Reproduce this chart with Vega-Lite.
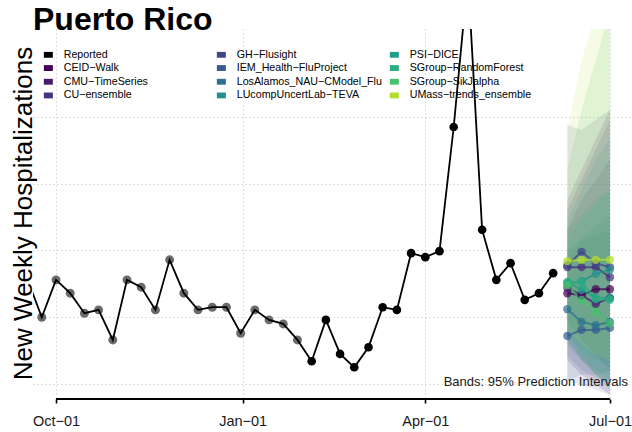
{
  "$schema": "https://vega.github.io/schema/vega-lite/v6.json",
  "width": 597,
  "height": 370,
  "autosize": {"type": "none"},
  "padding": {"left": 33, "top": 29, "right": 2, "bottom": 33},
  "background": "white",
  "title": {"text": "Puerto Rico", "anchor": "start", "frame": "group", "font": "Liberation Sans", "fontSize": 32, "fontWeight": "bold", "color": "black", "offset": 0, "dy": 8},
  "config": {"view": {"stroke": null}, "font": "Liberation Sans"},
  "datasets": {
    "reported": [
      {"date": "2022-09-17", "value": 256}, {"date": "2022-09-24", "value": 200}, {"date": "2022-10-01", "value": 256},
      {"date": "2022-10-08", "value": 236}, {"date": "2022-10-15", "value": 206}, {"date": "2022-10-22", "value": 211},
      {"date": "2022-10-29", "value": 166}, {"date": "2022-11-05", "value": 256}, {"date": "2022-11-12", "value": 245},
      {"date": "2022-11-19", "value": 211}, {"date": "2022-11-26", "value": 286}, {"date": "2022-12-03", "value": 236},
      {"date": "2022-12-10", "value": 211}, {"date": "2022-12-17", "value": 215}, {"date": "2022-12-24", "value": 215},
      {"date": "2022-12-31", "value": 176}, {"date": "2023-01-07", "value": 211}, {"date": "2023-01-14", "value": 196},
      {"date": "2023-01-21", "value": 190}, {"date": "2023-01-28", "value": 166}, {"date": "2023-02-04", "value": 134},
      {"date": "2023-02-11", "value": 196}, {"date": "2023-02-18", "value": 145}, {"date": "2023-02-25", "value": 125},
      {"date": "2023-03-04", "value": 155}, {"date": "2023-03-11", "value": 215}, {"date": "2023-03-18", "value": 211},
      {"date": "2023-03-25", "value": 296}, {"date": "2023-04-01", "value": 290}, {"date": "2023-04-08", "value": 299},
      {"date": "2023-04-15", "value": 485}, {"date": "2023-04-22", "value": 711}, {"date": "2023-04-29", "value": 331},
      {"date": "2023-05-06", "value": 256}, {"date": "2023-05-13", "value": 281}, {"date": "2023-05-20", "value": 226},
      {"date": "2023-05-27", "value": 236}, {"date": "2023-06-03", "value": 266}
    ],
    "forecast": [
      {"model": "CEID-Walk", "date": "2023-06-10", "median": 236, "lower": 136, "upper": 376},
      {"model": "CEID-Walk", "date": "2023-06-17", "median": 233, "lower": 114, "upper": 421},
      {"model": "CEID-Walk", "date": "2023-06-24", "median": 242, "lower": 99, "upper": 466},
      {"model": "CEID-Walk", "date": "2023-07-01", "median": 242, "lower": 84, "upper": 511},
      {"model": "CMU-TimeSeries", "date": "2023-06-10", "median": 244, "lower": 166, "upper": 331},
      {"model": "CMU-TimeSeries", "date": "2023-06-17", "median": 233, "lower": 136, "upper": 376},
      {"model": "CMU-TimeSeries", "date": "2023-06-24", "median": 220, "lower": 114, "upper": 406},
      {"model": "CMU-TimeSeries", "date": "2023-07-01", "median": 229, "lower": 99, "upper": 436},
      {"model": "CU-ensemble", "date": "2023-06-10", "median": 275, "lower": 196, "upper": 361},
      {"model": "CU-ensemble", "date": "2023-06-17", "median": 275, "lower": 166, "upper": 406},
      {"model": "CU-ensemble", "date": "2023-06-24", "median": 275, "lower": 143, "upper": 451},
      {"model": "CU-ensemble", "date": "2023-07-01", "median": 260, "lower": 121, "upper": 496},
      {"model": "GH-Flusight", "date": "2023-06-10", "median": 278, "lower": 106, "upper": 488},
      {"model": "GH-Flusight", "date": "2023-06-17", "median": 298, "lower": 99, "upper": 481},
      {"model": "GH-Flusight", "date": "2023-06-24", "median": 281, "lower": 91, "upper": 496},
      {"model": "GH-Flusight", "date": "2023-07-01", "median": 275, "lower": 84, "upper": 511},
      {"model": "IEM_Health-FluProject", "date": "2023-06-10", "median": 172, "lower": 106, "upper": 301},
      {"model": "IEM_Health-FluProject", "date": "2023-06-17", "median": 181, "lower": 114, "upper": 316},
      {"model": "IEM_Health-FluProject", "date": "2023-06-24", "median": 181, "lower": 114, "upper": 323},
      {"model": "IEM_Health-FluProject", "date": "2023-07-01", "median": 184, "lower": 118, "upper": 331},
      {"model": "LosAlamos_NAU-CModel_Flu", "date": "2023-06-10", "median": 212, "lower": 143, "upper": 286},
      {"model": "LosAlamos_NAU-CModel_Flu", "date": "2023-06-17", "median": 193, "lower": 121, "upper": 316},
      {"model": "LosAlamos_NAU-CModel_Flu", "date": "2023-06-24", "median": 188, "lower": 109, "upper": 338},
      {"model": "LosAlamos_NAU-CModel_Flu", "date": "2023-07-01", "median": 193, "lower": 106, "upper": 353},
      {"model": "LUcompUncertLab-TEVA", "date": "2023-06-10", "median": 250, "lower": 158, "upper": 346},
      {"model": "LUcompUncertLab-TEVA", "date": "2023-06-17", "median": 254, "lower": 136, "upper": 391},
      {"model": "LUcompUncertLab-TEVA", "date": "2023-06-24", "median": 265, "lower": 121, "upper": 436},
      {"model": "LUcompUncertLab-TEVA", "date": "2023-07-01", "median": 271, "lower": 106, "upper": 466},
      {"model": "PSI-DICE", "date": "2023-06-10", "median": 253, "lower": 173, "upper": 331},
      {"model": "PSI-DICE", "date": "2023-06-17", "median": 241, "lower": 151, "upper": 353},
      {"model": "PSI-DICE", "date": "2023-06-24", "median": 229, "lower": 136, "upper": 376},
      {"model": "PSI-DICE", "date": "2023-07-01", "median": 229, "lower": 129, "upper": 391},
      {"model": "SGroup-RandomForest", "date": "2023-06-10", "median": 251, "lower": 181, "upper": 316},
      {"model": "SGroup-RandomForest", "date": "2023-06-17", "median": 253, "lower": 143, "upper": 346},
      {"model": "SGroup-RandomForest", "date": "2023-06-24", "median": 227, "lower": 114, "upper": 368},
      {"model": "SGroup-RandomForest", "date": "2023-07-01", "median": 226, "lower": 91, "upper": 391},
      {"model": "SGroup-SikJalpha", "date": "2023-06-10", "median": 248, "lower": 166, "upper": 421},
      {"model": "SGroup-SikJalpha", "date": "2023-06-17", "median": 226, "lower": 136, "upper": 511},
      {"model": "SGroup-SikJalpha", "date": "2023-06-24", "median": 208, "lower": 114, "upper": 585},
      {"model": "SGroup-SikJalpha", "date": "2023-07-01", "median": 191, "lower": 91, "upper": 660},
      {"model": "UMass-trends_ensemble", "date": "2023-06-10", "median": 284, "lower": 181, "upper": 481},
      {"model": "UMass-trends_ensemble", "date": "2023-06-17", "median": 286, "lower": 158, "upper": 585},
      {"model": "UMass-trends_ensemble", "date": "2023-06-24", "median": 286, "lower": 143, "upper": 653},
      {"model": "UMass-trends_ensemble", "date": "2023-07-01", "median": 286, "lower": 136, "upper": 750}
    ]
  },
  "layer": [
    {
      "data": {"name": "forecast"},
      "mark": {"type": "area", "opacity": 0.13, "clip": true},
      "encoding": {
        "x": {
          "field": "date", "type": "temporal",
          "scale": {"type": "utc", "domain": [{"year": 2022, "month": 9, "date": 19, "hours": 16, "utc": true}, {"year": 2023, "month": 7, "date": 10, "hours": 21, "utc": true}]},
          "axis": {
            "title": null, "domain": false, "grid": true, "gridColor": "#c0c0c0", "gridDash": [1, 3], "gridWidth": 1,
            "values": [{"year": 2022, "month": 10, "date": 1, "utc": true}, {"year": 2023, "month": 1, "date": 1, "utc": true}, {"year": 2023, "month": 4, "date": 1, "utc": true}, {"year": 2023, "month": 7, "date": 1, "utc": true}],
            "format": "%b−%d", "labelFont": "Liberation Sans", "labelFontSize": 14.5, "labelColor": "#1a1a1a",
            "ticks": true, "tickSize": 4, "tickColor": "black", "tickWidth": 1.6, "labelPadding": 11, "labelFlush": false, "labelOverlap": false
          }
        },
        "y": {
          "field": "lower", "type": "quantitative",
          "scale": {"domain": [77.5, 631.8], "nice": false, "zero": false},
          "axis": {
            "title": "New Weekly Hospitalizations", "titleFont": "Liberation Sans", "titleFontSize": 26, "titleFontWeight": "normal", "titleColor": "black",
            "titleX": -1.5, "titleY": 184, "titleAlign": "center", "titleBaseline": "alphabetic", "titleAngle": -90,
            "labels": false, "ticks": false, "domain": false, "grid": true, "gridColor": "#c0c0c0", "gridDash": [1, 3], "gridWidth": 1,
            "values": [100, 200, 300, 400, 500]
          }
        },
        "y2": {"field": "upper"},
        "color": {
          "field": "model", "type": "nominal",
          "scale": {
            "domain": ["Reported", "CEID-Walk", "CMU-TimeSeries", "CU-ensemble", "GH-Flusight", "IEM_Health-FluProject", "LosAlamos_NAU-CModel_Flu", "LUcompUncertLab-TEVA", "PSI-DICE", "SGroup-RandomForest", "SGroup-SikJalpha", "UMass-trends_ensemble"],
            "range": ["#000000", "#440154", "#481b6d", "#46317e", "#3f4788", "#365d8d", "#2c728e", "#21908d", "#1fa088", "#28ae80", "#48c16e", "#b4de2c"]
          },
          "legend": {
            "title": null, "orient": "none", "legendX": 10, "legendY": 20, "columns": 3, "gridAlign": "all",
            "columnPadding": 7, "rowPadding": 1.7, "padding": 0,
            "symbolType": "M-1,-0.65H1V0.65H-1Z", "symbolSize": 81, "symbolOpacity": 1, "symbolStrokeWidth": 0,
            "labelFont": "Liberation Sans", "labelFontSize": 10.7, "labelColor": "black", "labelOffset": 10, "labelLimit": 300,
            "labelExpr": "replace(datum.label, regexp('-', 'g'), '−')",
            "encode": {"symbols": {"update": {"opacity": {"value": 1}, "fillOpacity": {"value": 1}}}}
          }
        }
      }
    },
    {
      "data": {"name": "forecast"},
      "mark": {"type": "line", "strokeWidth": 2, "opacity": 0.75, "clip": true},
      "encoding": {
        "x": {"field": "date", "type": "temporal"},
        "y": {"field": "median", "type": "quantitative"},
        "color": {"field": "model", "type": "nominal"}
      }
    },
    {
      "data": {"name": "forecast"},
      "mark": {"type": "point", "filled": true, "size": 70, "opacity": 0.72, "clip": true},
      "encoding": {
        "x": {"field": "date", "type": "temporal"},
        "y": {"field": "median", "type": "quantitative"},
        "color": {"field": "model", "type": "nominal"}
      }
    },
    {
      "data": {"name": "reported"},
      "transform": [{"filter": "time(datum.date) < time('2023-01-31')"}],
      "mark": {"type": "point", "filled": true, "size": 80, "opacity": 1, "color": "#6b6b6b", "clip": true},
      "encoding": {
        "x": {"field": "date", "type": "temporal"},
        "y": {"field": "value", "type": "quantitative"}
      }
    },
    {
      "data": {"name": "reported"},
      "mark": {"type": "line", "strokeWidth": 1.8, "clip": true},
      "encoding": {
        "x": {"field": "date", "type": "temporal"},
        "y": {"field": "value", "type": "quantitative"},
        "color": {"datum": "Reported"}
      }
    },
    {
      "data": {"name": "reported"},
      "transform": [{"filter": "time(datum.date) > time('2023-01-31')"}],
      "mark": {"type": "point", "filled": true, "size": 75, "opacity": 1, "clip": true},
      "encoding": {
        "x": {"field": "date", "type": "temporal"},
        "y": {"field": "value", "type": "quantitative"},
        "color": {"datum": "Reported"}
      }
    },
    {
      "data": {"values": [{}]},
      "mark": {"type": "rule", "color": "black", "strokeWidth": 2},
      "encoding": {
        "x": {"datum": {"year": 2022, "month": 10, "date": 1, "utc": true}, "type": "temporal"},
        "x2": {"datum": {"year": 2023, "month": 7, "date": 1, "utc": true}},
        "y": {"datum": 77.5, "type": "quantitative"}
      }
    },
    {
      "data": {"values": [{}]},
      "mark": {"type": "text", "text": "Bands: 95% Prediction Intervals", "align": "right", "baseline": "alphabetic", "fontSize": 13, "font": "Liberation Sans", "color": "#1a1a1a"},
      "encoding": {
        "x": {"datum": {"year": 2023, "month": 7, "date": 9, "hours": 21, "utc": true}, "type": "temporal"},
        "y": {"datum": 97, "type": "quantitative"}
      }
    }
  ]
}
